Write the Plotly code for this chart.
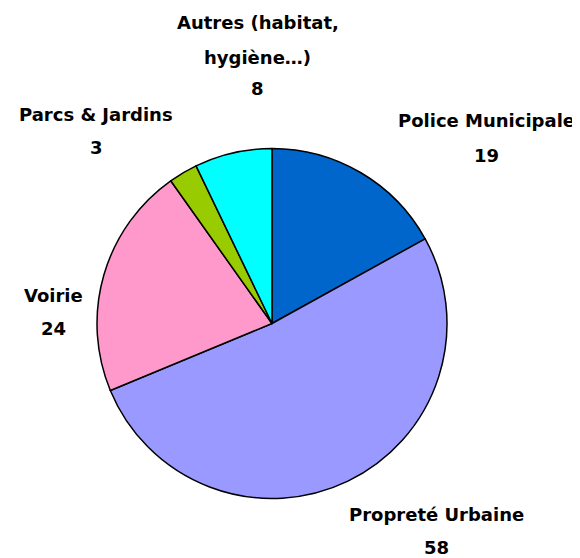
import plotly.graph_objects as go

categories = ["Police Municipale", "Propreté Urbaine", "Voirie", "Parcs & Jardins", "Autres (habitat, hygiène…)"]
values = [19, 58, 24, 3, 8]
colors = ["#0066CC", "#9999FF", "#FF99CC", "#99CC00", "#00FFFF"]

# label lines and their centre positions (pixels from top-left of the window)
label_lines = [
    (["Police Municipale", "19"], 486, [121, 155]),
    (["Propreté Urbaine", "58"], 436, [514, 547]),
    (["Voirie", "24"], 53, [295, 328]),
    (["Parcs & Jardins", "3"], 96, [114, 148]),
    (["Autres (habitat,", "hygiène…)", "8"], 258, [23, 57, 89]),
]

W, H = 580, 558
OFF = 8  # page body margin offset
cx, cy, d = 272, 323.5, 350

fig = go.Figure(go.Pie(
    labels=categories,
    values=values,
    sort=False,
    direction="clockwise",
    rotation=0,
    marker=dict(colors=colors, line=dict(color="black", width=1.5)),
    textinfo="none",
    hoverinfo="label+value",
    showlegend=False,
    domain=dict(x=[(cx - OFF - d / 2) / W, (cx - OFF + d / 2) / W],
                y=[(H - (cy - OFF) - d / 2) / H, (H - (cy - OFF) + d / 2) / H]),
))

annotations = []
for lines, x, ys in label_lines:
    for t, y in zip(lines, ys):
        annotations.append(dict(
            text=t, x=(x - OFF) / W, y=1 - (y - OFF) / H, xref="paper", yref="paper",
            xanchor="center", yanchor="middle", showarrow=False,
            font=dict(family="DejaVu Sans", size=18, color="black", weight="bold"),
        ))

fig.update_layout(
    width=W, height=H,
    margin=dict(l=0, r=0, t=0, b=0),
    paper_bgcolor="white",
    plot_bgcolor="white",
    annotations=annotations,
)

fig.write_html("out.html")
